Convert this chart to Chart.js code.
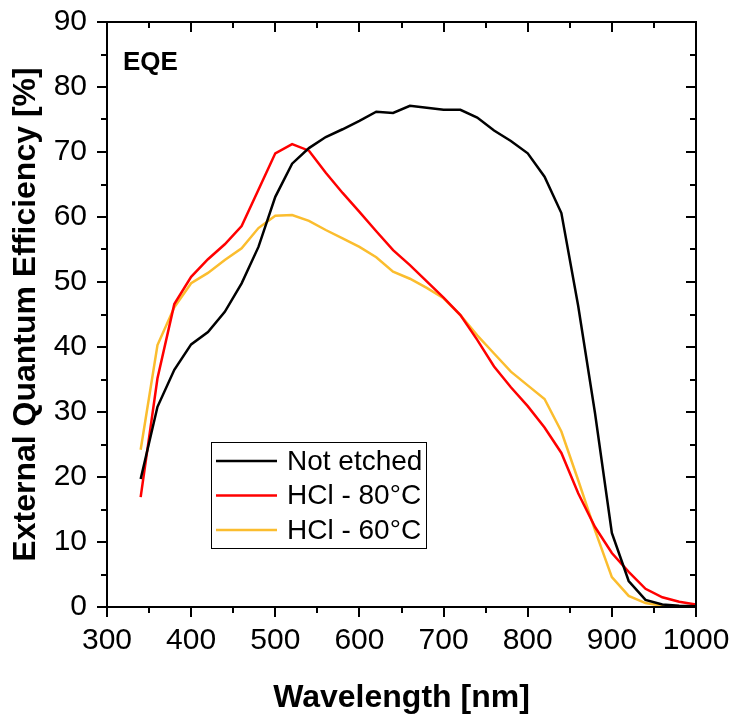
<!DOCTYPE html>
<html>
<head>
<meta charset="utf-8">
<script src="https://cdn.jsdelivr.net/npm/chart.js@4/dist/chart.umd.min.js"></script>
<style>
  html, body { margin: 0; padding: 0; background: #fff; }
  #wrap { width: 737px; height: 717px; }
</style>
</head>
<body>
<div id="wrap"><canvas id="chartEqe" width="737" height="717"></canvas></div>
<script>
// wavelength (nm), one point every 20 nm
const wavelengths = [340, 360, 380, 400, 420, 440, 460, 480, 500, 520, 540, 560, 580, 600, 620, 640,
  660, 680, 700, 720, 740, 760, 780, 800, 820, 840, 860, 880, 900, 920, 940, 960, 980, 1000];

// EQE values (%)
const notEtched = [19.7, 30.8, 36.5, 40.4, 42.3, 45.4, 49.8, 55.4, 63.1, 68.2, 70.6, 72.3, 73.5, 74.8, 76.2, 76.0,
  77.1, 76.8, 76.5, 76.5, 75.3, 73.3, 71.7, 69.8, 66.2, 60.6, 46.3, 29.8, 11.4, 4.0, 1.1, 0.4, 0.2, 0.1];
const hcl80 = [16.9, 35.2, 46.6, 50.8, 53.5, 55.8, 58.6, 64.2, 69.8, 71.2, 70.2, 66.8, 63.7, 60.8, 57.8, 54.9,
  52.6, 50.1, 47.6, 44.9, 41.1, 37.0, 33.8, 30.9, 27.6, 23.7, 17.5, 12.3, 8.3, 5.4, 2.8, 1.5, 0.8, 0.4];
const hcl60 = [24.2, 40.3, 46.1, 49.8, 51.4, 53.4, 55.2, 58.3, 60.2, 60.3, 59.4, 58.0, 56.7, 55.4, 53.8, 51.6,
  50.5, 49.1, 47.5, 44.9, 41.8, 39.0, 36.2, 34.1, 32.0, 27.0, 19.5, 11.8, 4.6, 1.7, 0.6, 0.2, 0.1, 0.1];

const seriesNames = ["Not etched", "HCl - 80°C", "HCl - 60°C"];
const seriesColors = ["#000000", "#ff0000", "#fbbd2e"];

const FONT = "Arial, 'Liberation Sans', sans-serif";

function toPoints(ys) {
  return wavelengths.map((x, i) => ({ x: x, y: ys[i] }));
}

// frame + Origin style ticks (out on bottom/left, in on top/right, minor halves)
const frameTicks = {
  id: "frameTicks",
  afterDatasetsDraw(chart) {
    const { ctx, chartArea: a, scales } = chart;
    ctx.save();
    ctx.strokeStyle = "#000";
    ctx.lineWidth = 2;
    ctx.strokeRect(a.left, a.top, a.right - a.left, a.bottom - a.top);
    ctx.beginPath();
    for (let v = 300; v <= 1000; v += 50) {
      const px = Math.round(scales.x.getPixelForValue(v));
      const len = v % 100 === 0 ? 10 : 6;
      ctx.moveTo(px, a.bottom); ctx.lineTo(px, a.bottom + len);
      ctx.moveTo(px, a.top); ctx.lineTo(px, a.top + len);
    }
    for (let v = 0; v <= 90; v += 5) {
      const py = Math.round(scales.y.getPixelForValue(v));
      const len = v % 10 === 0 ? 10 : 6;
      ctx.moveTo(a.left, py); ctx.lineTo(a.left - len, py);
      ctx.moveTo(a.right, py); ctx.lineTo(a.right - len, py);
    }
    ctx.stroke();

    // panel label
    ctx.fillStyle = "#000";
    ctx.font = "bold 26px " + FONT;
    ctx.textBaseline = "alphabetic";
    ctx.fillText("EQE", 123, 70);

    // legend box
    const bx = 211, by = 442, bw = 215, bh = 106;
    ctx.fillStyle = "#fff";
    ctx.fillRect(bx, by, bw, bh);
    ctx.strokeStyle = "#000";
    ctx.lineWidth = 1;
    ctx.strokeRect(bx + 0.5, by + 0.5, bw, bh);
    ctx.font = "28px " + FONT;
    ctx.textBaseline = "middle";
    chart.data.datasets.forEach((ds, i) => {
      const y = by + 19 + i * 34.5;
      ctx.strokeStyle = ds.borderColor;
      ctx.lineWidth = 2.5;
      ctx.beginPath();
      ctx.moveTo(bx + 5, y); ctx.lineTo(bx + 66, y);
      ctx.stroke();
      ctx.fillStyle = "#000";
      ctx.fillText(ds.label, bx + 76, y + 1);
    });
    ctx.restore();
  }
};

new Chart(document.getElementById("chartEqe"), {
  type: "line",
  data: {
    datasets: [
      { label: seriesNames[0], data: toPoints(notEtched), borderColor: seriesColors[0] },
      { label: seriesNames[1], data: toPoints(hcl80), borderColor: seriesColors[1] },
      { label: seriesNames[2], data: toPoints(hcl60), borderColor: seriesColors[2] }
    ]
  },
  options: {
    responsive: false,
    animation: false,
    layout: { padding: { top: 22, right: 41, left: 0, bottom: 0 } },
    elements: {
      line: { borderWidth: 2.5, tension: 0, fill: false },
      point: { radius: 0 }
    },
    plugins: {
      legend: { display: false },
      tooltip: { enabled: false }
    },
    scales: {
      x: {
        type: "linear",
        min: 300,
        max: 1000,
        grid: { display: false, drawTicks: false },
        border: { display: false },
        ticks: {
          stepSize: 100, color: "#000", padding: 16, font: { family: FONT, size: 30 },
          callback: v => String(v)
        },
        title: {
          display: true,
          text: "Wavelength [nm]",
          color: "#000",
          font: { family: FONT, size: 32, weight: "bold" },
          padding: { top: 10, bottom: 0 }
        },
        afterFit(scale) {
          scale.height = 110;
          scale.paddingLeft = 0;
          scale.paddingRight = 0;
        }
      },
      y: {
        min: 0,
        max: 90,
        grid: { display: false, drawTicks: false },
        border: { display: false },
        ticks: { stepSize: 10, color: "#000", padding: 20, font: { family: FONT, size: 30 } },
        title: {
          display: true,
          text: "External Quantum Efficiency [%]",
          color: "#000",
          font: { family: FONT, size: 32, weight: "bold" },
          padding: { top: 7, bottom: 0 }
        },
        afterFit(scale) {
          scale.width = 107;
          scale.paddingTop = 0;
          scale.paddingBottom = 0;
        }
      }
    }
  },
  plugins: [frameTicks]
});
</script>
</body>
</html>
